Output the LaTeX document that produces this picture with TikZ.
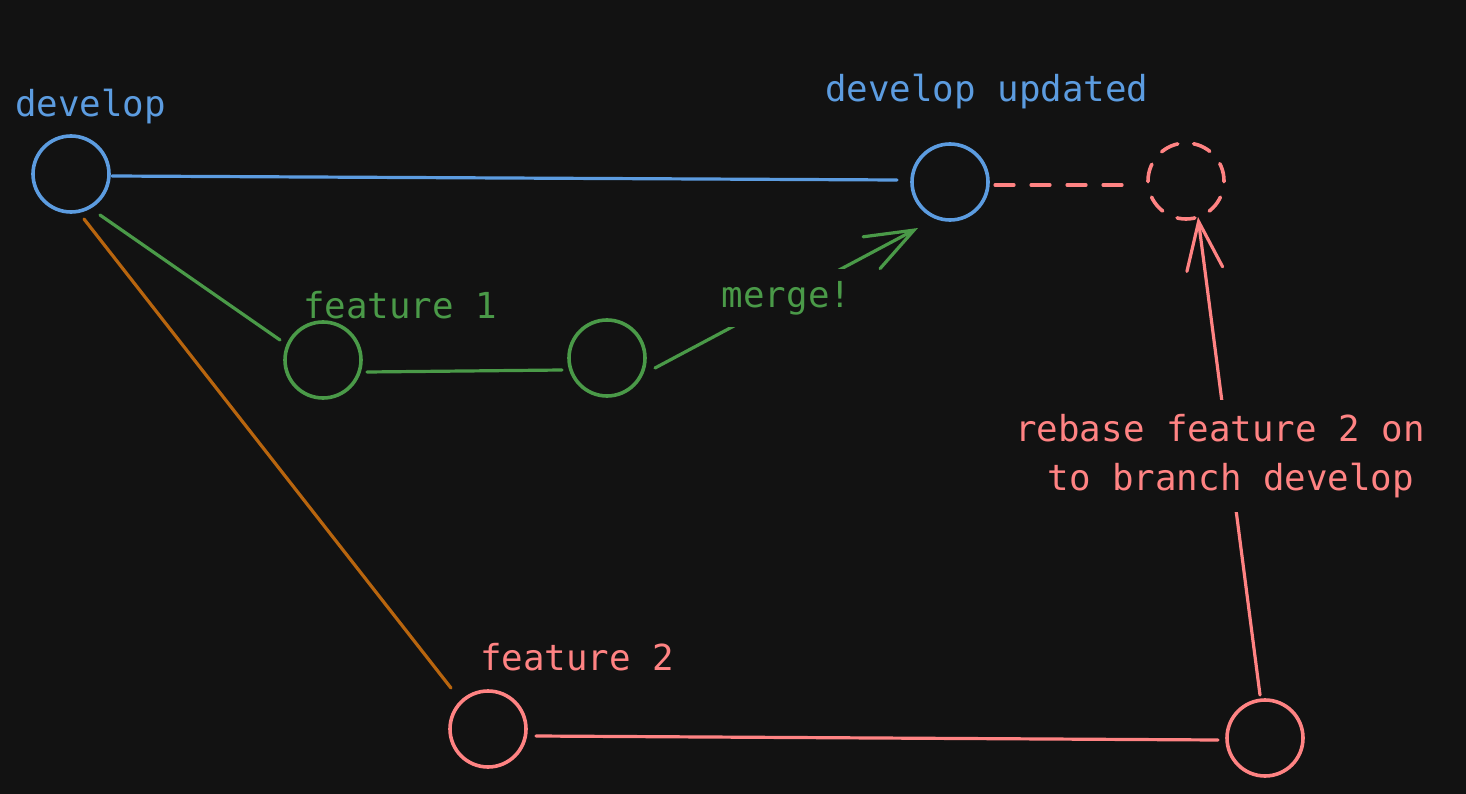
\documentclass[tikz,border=0pt]{standalone}
\usepackage{fontspec}
\setmonofont{DejaVu Sans Mono}
\usetikzlibrary{arrows.meta,calc}
\definecolor{bg}{HTML}{121212}
\definecolor{cblue}{HTML}{5C9CE0}
\definecolor{cgreen}{HTML}{4A9A48}
\definecolor{cred}{HTML}{FF8383}
\definecolor{corange}{HTML}{B8650E}
\tikzset{
  commit/.style={circle,draw,line width=3.6pt,minimum size=76pt,inner sep=0pt},
  ghost/.style={commit,dash pattern=on 18pt off 16pt,line cap=round},
  conn/.style={line width=3.2pt,line cap=round},
  lbl/.style={font=\ttfamily\fontsize{35.8}{50}\selectfont,inner sep=0pt},
  barb/.style={-{Straight Barb[length=48pt,width=36pt,line cap=round]}},
}
\begin{document}
\begin{tikzpicture}[x=1pt,y=-1pt]
\fill[bg] (0,0) rectangle (1466,794);
\useasboundingbox (0,0) rectangle (1466,794);
% commits
\node[commit,cblue] (dev) at (71,174) {};
\node[commit,cblue] (du) at (950,182) {};
\node[ghost,cred] (gh) at (1186,181) {};
\node[commit,cgreen] (f1) at (323,360) {};
\node[commit,cgreen] (c2) at (607,358) {};
\node[commit,cred] (f2) at (488,729) {};
\node[commit,cred] (r2) at (1265,738) {};
% labels
\node[lbl,cblue,anchor=base west] (ldev) at (15,117) {develop};
\node[lbl,cblue,anchor=base west] (ldu) at (825,102) {develop updated};
\node[lbl,cgreen,anchor=base west] (lf1) at (303,318) {feature 1};
\node[lbl,cred,anchor=base west] (lf2) at (480,670) {feature 2};
% connectors
\draw[conn,cblue] ([shift={(41,2)}]dev.center) -- ([shift={(-53,-2)}]du.center);
\draw[conn,cgreen] ([shift={(29,41)}]dev.center) -- ([shift={(-43,-20)}]f1.center);
\draw[conn,cgreen] ([shift={(44,12)}]f1.center) -- ([shift={(-45,12)}]c2.center);
\draw[conn,corange] ([shift={(13,45)}]dev.center) -- ([shift={(-37,-41)}]f2.center);
\draw[conn,cred] ([shift={(48,7)}]f2.center) -- ([shift={(-47,2)}]r2.center);
\draw[conn,cred,dash pattern=on 19pt off 17pt] ([shift={(45,3)}]du.center) -- ([shift={(-62,4)}]gh.center);
\draw[conn,cgreen,barb] ([shift={(48,10)}]c2.center) -- node[lbl,fill=bg,inner xsep=9pt,inner ysep=12pt] (lm) {merge!} ([shift={(-32,46)}]du.center);
\draw[conn,cred,barb] ([shift={(-5,-43)}]r2.center) -- node[lbl,fill=bg,align=center,inner xsep=4pt,inner ysep=14pt,xshift=-9pt,font=\ttfamily\fontsize{35.8}{49}\selectfont] (lrb) {rebase feature 2 on\\\hphantom{x}to branch develop} ([shift={(12,36)}]gh.center);
\end{tikzpicture}
\end{document}
